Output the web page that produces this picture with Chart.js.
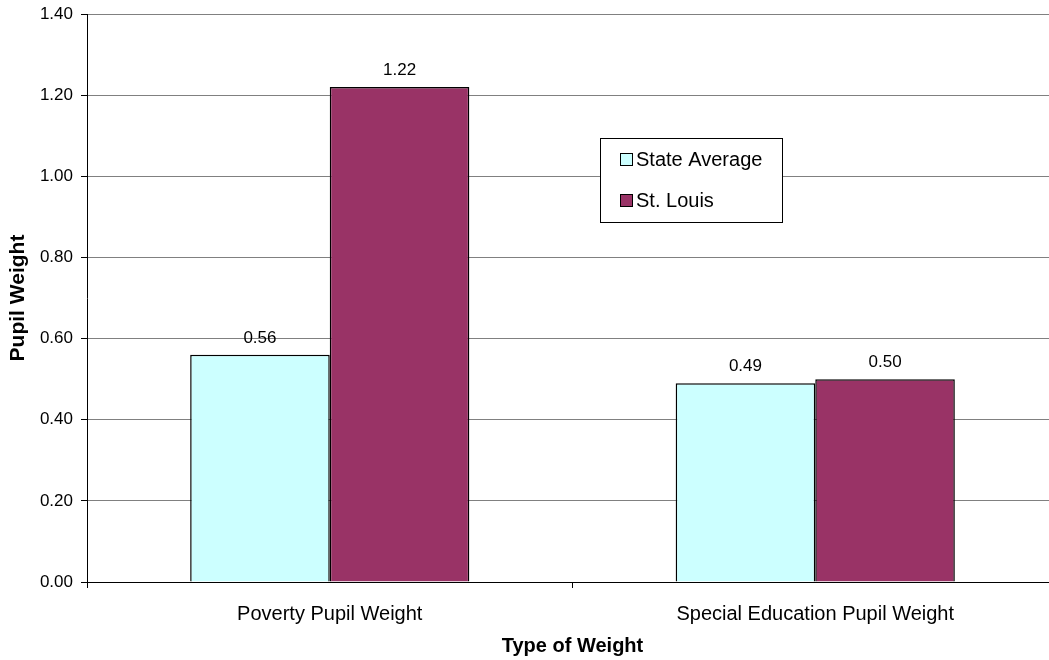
<!DOCTYPE html>
<html>
<head>
<meta charset="utf-8">
<script src="https://cdn.jsdelivr.net/npm/chart.js@4/dist/chart.umd.min.js"></script>
<style>
  html, body { margin: 0; padding: 0; background: #fff; overflow: hidden; }
  #wrap { width: 1058px; height: 660px; }
</style>
</head>
<body>
<div id="wrap"><canvas id="chart"></canvas></div>
<script>
// categories and values
const categories = ['Poverty Pupil Weight', 'Special Education Pupil Weight'];
const stateAverage = [0.56, 0.49];
const stLouis = [1.22, 0.50];
const yTicks = [0, 0.2, 0.4, 0.6, 0.8, 1.0, 1.2, 1.4];

const FONT = 'Arial, "Liberation Sans", sans-serif';

// numbers above each bar
const barValues = {
    id: 'barValues',
    afterDatasetsDraw(chart) {
        const ctx = chart.ctx;
        ctx.save();
        ctx.font = '17px ' + FONT;
        ctx.fillStyle = '#000';
        ctx.textAlign = 'center';
        ctx.textBaseline = 'alphabetic';
        chart.data.datasets.forEach((ds, i) => {
            chart.getDatasetMeta(i).data.forEach((bar, j) => {
                ctx.fillText(ds.data[j].toFixed(2), bar.x, bar.y - 12);
            });
        });
        ctx.restore();
    }
};

// boxed legend inside the plot
const boxLegend = {
    id: 'boxLegend',
    afterDraw(chart) {
        const ctx = chart.ctx;
        const x = 600.5, y = 138.5, w = 182, h = 84;
        ctx.save();
        ctx.fillStyle = '#fff';
        ctx.fillRect(x, y, w, h);
        ctx.strokeStyle = '#000';
        ctx.lineWidth = 1;
        ctx.strokeRect(x, y, w, h);
        ctx.font = '20px ' + FONT;
        ctx.textBaseline = 'middle';
        chart.data.datasets.forEach((ds, i) => {
            const cy = 160 + i * 41;
            ctx.fillStyle = ds.backgroundColor;
            ctx.fillRect(620.5, cy - 6.5, 12, 12);
            ctx.strokeRect(620.5, cy - 6.5, 12, 12);
            ctx.fillStyle = '#000';
            ctx.fillText(ds.label, 636, cy);
        });
        ctx.restore();
    }
};

new Chart(document.getElementById('chart'), {
    type: 'bar',
    data: {
        labels: categories,
        datasets: [
            { label: 'State Average', data: stateAverage, backgroundColor: '#CCFFFF', borderColor: '#000', borderWidth: 1.5 },
            { label: 'St. Louis', data: stLouis, backgroundColor: '#993366', borderColor: '#000', borderWidth: 1.5 }
        ]
    },
    options: {
        responsive: true,
        maintainAspectRatio: false,
        animation: false,
        layout: { padding: { top: 14, right: 0, left: 0, bottom: 0 } },
        plugins: { legend: { display: false }, tooltip: { enabled: false } },
        datasets: { bar: { categoryPercentage: 0.575, barPercentage: 1.0 } },
        scales: {
            x: {
                grid: { offset: true, drawOnChartArea: false, color: '#000', tickLength: 6 },
                border: { color: '#000', width: 1 },
                ticks: { color: '#000', font: { family: FONT, size: 20 }, padding: 14 },
                title: { display: true, text: 'Type of Weight', color: '#000', font: { family: FONT, size: 20, weight: 'bold' }, padding: { top: 2, bottom: 2 } },
                afterFit: (s) => { s.height = 78; }
            },
            y: {
                min: 0,
                max: 1.4,
                afterBuildTicks: (s) => { s.ticks = yTicks.map(v => ({ value: v })); },
                grid: { color: '#808080', tickColor: '#000', tickLength: 6 },
                border: { color: '#000', width: 1 },
                ticks: { color: '#000', font: { family: FONT, size: 17 }, padding: 8, callback: (v) => Number(v).toFixed(2) },
                title: { display: true, text: 'Pupil Weight', color: '#000', font: { family: FONT, size: 21, weight: 'bold' }, padding: { top: 6, bottom: 4 } },
                afterFit: (s) => { s.width = 87; s.paddingTop = 0; s.paddingBottom = 0; }
            }
        }
    },
    plugins: [barValues, boxLegend]
});
</script>
</body>
</html>
